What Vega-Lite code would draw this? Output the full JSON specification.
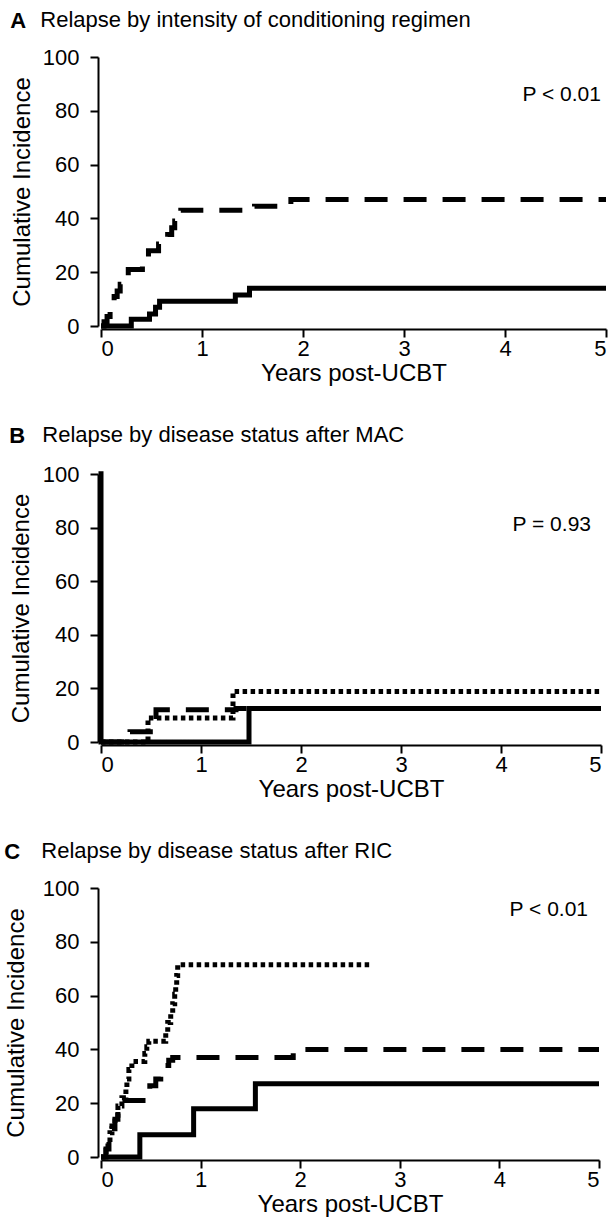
{
  "$schema": "https://vega.github.io/schema/vega-lite/v6.json",
  "background": "white",
  "padding": {"left": 4, "top": 9, "right": 4, "bottom": 4},
  "spacing": 39,
  "config": {
    "view": {"stroke": null},
    "font": "Liberation Sans",
    "axis": {
      "domainColor": "black", "domainWidth": 2, "tickColor": "black", "tickWidth": 2, "tickSize": 8,
      "labelFont": "Liberation Sans", "labelFontSize": 22, "labelColor": "black",
      "titleFont": "Liberation Sans", "titleFontSize": 24, "titleFontWeight": "normal", "titleColor": "black",
      "grid": false, "offset": 3
    },
    "title": {"font": "Liberation Sans", "color": "black"}
  },
  "datasets": {
    "pvalues": [
      {"panel": "A", "label": "P < 0.01"},
      {"panel": "B", "label": "P = 0.93"},
      {"panel": "C", "label": "P < 0.01"}
    ],
    "curves": [
      {"panel": "A", "group": "1", "x": 0, "y": 0},
      {"panel": "A", "group": "1", "x": 0.3, "y": 2.5},
      {"panel": "A", "group": "1", "x": 0.48, "y": 4.5},
      {"panel": "A", "group": "1", "x": 0.54, "y": 7},
      {"panel": "A", "group": "1", "x": 0.58, "y": 9.2},
      {"panel": "A", "group": "1", "x": 1.33, "y": 11.5},
      {"panel": "A", "group": "1", "x": 1.47, "y": 14},
      {"panel": "A", "group": "1", "x": 5, "y": 14},
      {"panel": "A", "group": "2", "x": 0, "y": 0},
      {"panel": "A", "group": "2", "x": 0.03, "y": 1.6},
      {"panel": "A", "group": "2", "x": 0.06, "y": 3.5},
      {"panel": "A", "group": "2", "x": 0.09, "y": 6},
      {"panel": "A", "group": "2", "x": 0.11, "y": 8.5},
      {"panel": "A", "group": "2", "x": 0.13, "y": 11},
      {"panel": "A", "group": "2", "x": 0.16, "y": 13},
      {"panel": "A", "group": "2", "x": 0.19, "y": 15.5},
      {"panel": "A", "group": "2", "x": 0.23, "y": 18},
      {"panel": "A", "group": "2", "x": 0.27, "y": 21},
      {"panel": "A", "group": "2", "x": 0.41, "y": 23},
      {"panel": "A", "group": "2", "x": 0.44, "y": 25.5},
      {"panel": "A", "group": "2", "x": 0.47, "y": 28},
      {"panel": "A", "group": "2", "x": 0.57, "y": 30.5},
      {"panel": "A", "group": "2", "x": 0.62, "y": 32.5},
      {"panel": "A", "group": "2", "x": 0.66, "y": 34},
      {"panel": "A", "group": "2", "x": 0.7, "y": 36.5},
      {"panel": "A", "group": "2", "x": 0.73, "y": 39},
      {"panel": "A", "group": "2", "x": 0.76, "y": 41.5},
      {"panel": "A", "group": "2", "x": 0.79, "y": 43},
      {"panel": "A", "group": "2", "x": 1.52, "y": 44.5},
      {"panel": "A", "group": "2", "x": 1.88, "y": 47},
      {"panel": "A", "group": "2", "x": 5, "y": 47},
      {"panel": "B", "group": "1", "x": 0, "y": 101},
      {"panel": "B", "group": "1", "x": 0, "y": 0},
      {"panel": "B", "group": "1", "x": 1.48, "y": 12.5},
      {"panel": "B", "group": "1", "x": 5, "y": 12.5},
      {"panel": "B", "group": "2", "x": 0, "y": 0},
      {"panel": "B", "group": "2", "x": 0.29, "y": 3.8},
      {"panel": "B", "group": "2", "x": 0.55, "y": 12},
      {"panel": "B", "group": "2", "x": 1.35, "y": 12.5},
      {"panel": "B", "group": "2", "x": 5, "y": 12.5},
      {"panel": "B", "group": "3", "x": 0, "y": 0},
      {"panel": "B", "group": "3", "x": 0.47, "y": 9},
      {"panel": "B", "group": "3", "x": 1.32, "y": 18.8},
      {"panel": "B", "group": "3", "x": 5, "y": 18.8},
      {"panel": "C", "group": "1", "x": 0, "y": 0},
      {"panel": "C", "group": "1", "x": 0.39, "y": 8.3},
      {"panel": "C", "group": "1", "x": 0.93, "y": 17.9},
      {"panel": "C", "group": "1", "x": 1.55, "y": 27.2},
      {"panel": "C", "group": "1", "x": 5, "y": 27.2},
      {"panel": "C", "group": "2", "x": 0, "y": 0},
      {"panel": "C", "group": "2", "x": 0.05, "y": 3},
      {"panel": "C", "group": "2", "x": 0.08, "y": 7},
      {"panel": "C", "group": "2", "x": 0.11, "y": 10.5},
      {"panel": "C", "group": "2", "x": 0.14, "y": 14},
      {"panel": "C", "group": "2", "x": 0.17, "y": 17.5},
      {"panel": "C", "group": "2", "x": 0.2, "y": 21},
      {"panel": "C", "group": "2", "x": 0.46, "y": 24},
      {"panel": "C", "group": "2", "x": 0.49, "y": 26.5},
      {"panel": "C", "group": "2", "x": 0.55, "y": 29},
      {"panel": "C", "group": "2", "x": 0.6, "y": 31.5},
      {"panel": "C", "group": "2", "x": 0.64, "y": 34},
      {"panel": "C", "group": "2", "x": 0.68, "y": 36},
      {"panel": "C", "group": "2", "x": 0.72, "y": 37},
      {"panel": "C", "group": "2", "x": 1.93, "y": 40},
      {"panel": "C", "group": "2", "x": 5, "y": 40},
      {"panel": "C", "group": "3", "x": 0, "y": 0},
      {"panel": "C", "group": "3", "x": 0.05, "y": 2.5},
      {"panel": "C", "group": "3", "x": 0.07, "y": 5.5},
      {"panel": "C", "group": "3", "x": 0.09, "y": 9},
      {"panel": "C", "group": "3", "x": 0.11, "y": 12.5},
      {"panel": "C", "group": "3", "x": 0.14, "y": 15.5},
      {"panel": "C", "group": "3", "x": 0.17, "y": 19},
      {"panel": "C", "group": "3", "x": 0.21, "y": 22},
      {"panel": "C", "group": "3", "x": 0.25, "y": 26},
      {"panel": "C", "group": "3", "x": 0.26, "y": 29},
      {"panel": "C", "group": "3", "x": 0.28, "y": 32.5},
      {"panel": "C", "group": "3", "x": 0.31, "y": 35.5},
      {"panel": "C", "group": "3", "x": 0.44, "y": 38.5},
      {"panel": "C", "group": "3", "x": 0.46, "y": 41},
      {"panel": "C", "group": "3", "x": 0.48, "y": 43},
      {"panel": "C", "group": "3", "x": 0.65, "y": 46.5},
      {"panel": "C", "group": "3", "x": 0.67, "y": 50},
      {"panel": "C", "group": "3", "x": 0.7, "y": 53.5},
      {"panel": "C", "group": "3", "x": 0.72, "y": 57},
      {"panel": "C", "group": "3", "x": 0.74, "y": 60.5},
      {"panel": "C", "group": "3", "x": 0.75, "y": 64},
      {"panel": "C", "group": "3", "x": 0.76, "y": 67.5},
      {"panel": "C", "group": "3", "x": 0.77, "y": 71.5},
      {"panel": "C", "group": "3", "x": 2.7, "y": 71.5}
    ]
  },
  "vconcat": [
    {
      "title": {"text": "A", "fontWeight": "bold", "fontSize": 22, "anchor": "start", "frame": "bounds", "offset": -24},
      "vconcat": [
        {
          "width": 505, "height": 269,
          "title": {"text": "Relapse by intensity of conditioning regimen", "fontSize": 22, "fontWeight": "normal", "anchor": "start", "frame": "bounds", "dx": 30, "offset": 14},
          "layer": [
            {
              "data": {"name": "curves"},
              "transform": [{"filter": "datum.panel === 'A'"}],
              "mark": {"type": "line", "interpolate": "step-after", "color": "black", "strokeWidth": 5, "strokeCap": "butt"},
              "encoding": {
                "x": {"field": "x", "type": "quantitative", "scale": {"domain": [0, 5], "nice": false}, "axis": {"values": [0, 1, 2, 3, 4, 5], "format": "d", "title": "Years post-UCBT", "labelPadding": 1, "titlePadding": 2}},
                "y": {"field": "y", "type": "quantitative", "scale": {"domain": [0, 100], "nice": false}, "axis": {"values": [0, 20, 40, 60, 80, 100], "format": "d", "title": "Cumulative Incidence", "labelPadding": 11, "titlePadding": 8}},
                "strokeDash": {"field": "group", "type": "nominal", "scale": {"domain": ["1", "2", "3"], "range": [[1, 0], [23, 16], [4.5, 3.5]]}, "legend": null}
              }
            },
            {
              "data": {"name": "pvalues"},
              "transform": [{"filter": "datum.panel === 'A'"}],
              "mark": {"type": "text", "align": "right", "baseline": "middle", "fontSize": 21, "color": "black"},
              "encoding": {"x": {"datum": 4.95}, "y": {"datum": 86}, "text": {"field": "label"}}
            }
          ]
        }
      ]
    },
    {
      "title": {"text": "B", "fontWeight": "bold", "fontSize": 22, "anchor": "start", "frame": "bounds", "offset": -24},
      "vconcat": [
        {
          "width": 500, "height": 268,
          "title": {"text": "Relapse by disease status after MAC", "fontSize": 22, "fontWeight": "normal", "anchor": "start", "frame": "bounds", "dx": 33, "offset": 14},
          "layer": [
            {
              "data": {"name": "curves"},
              "transform": [{"filter": "datum.panel === 'B'"}],
              "mark": {"type": "line", "interpolate": "step-after", "color": "black", "strokeWidth": 5, "strokeCap": "butt"},
              "encoding": {
                "x": {"field": "x", "type": "quantitative", "scale": {"domain": [0, 5], "nice": false}, "axis": {"values": [0, 1, 2, 3, 4, 5], "format": "d", "title": "Years post-UCBT", "labelPadding": 1, "titlePadding": 2}},
                "y": {"field": "y", "type": "quantitative", "scale": {"domain": [0, 100], "nice": false}, "axis": {"values": [0, 20, 40, 60, 80, 100], "format": "d", "title": "Cumulative Incidence", "labelPadding": 11, "titlePadding": 9}},
                "strokeDash": {"field": "group", "type": "nominal", "scale": {"domain": ["1", "2", "3"], "range": [[1, 0], [23, 16], [4.5, 3.5]]}, "legend": null}
              }
            },
            {
              "data": {"name": "pvalues"},
              "transform": [{"filter": "datum.panel === 'B'"}],
              "mark": {"type": "text", "align": "right", "baseline": "middle", "fontSize": 21, "color": "black"},
              "encoding": {"x": {"datum": 4.9}, "y": {"datum": 81}, "text": {"field": "label"}}
            }
          ]
        }
      ]
    },
    {
      "title": {"text": "C", "fontWeight": "bold", "fontSize": 22, "anchor": "start", "frame": "bounds", "offset": -24},
      "vconcat": [
        {
          "width": 498, "height": 269,
          "title": {"text": "Relapse by disease status after RIC", "fontSize": 22, "fontWeight": "normal", "anchor": "start", "frame": "bounds", "dx": 37, "offset": 14},
          "layer": [
            {
              "data": {"name": "curves"},
              "transform": [{"filter": "datum.panel === 'C'"}],
              "mark": {"type": "line", "interpolate": "step-after", "color": "black", "strokeWidth": 5, "strokeCap": "butt"},
              "encoding": {
                "x": {"field": "x", "type": "quantitative", "scale": {"domain": [0, 5], "nice": false}, "axis": {"values": [0, 1, 2, 3, 4, 5], "format": "d", "title": "Years post-UCBT", "labelPadding": 1, "titlePadding": 2}},
                "y": {"field": "y", "type": "quantitative", "scale": {"domain": [0, 100], "nice": false}, "axis": {"values": [0, 20, 40, 60, 80, 100], "format": "d", "title": "Cumulative Incidence", "labelPadding": 11, "titlePadding": 14}},
                "strokeDash": {"field": "group", "type": "nominal", "scale": {"domain": ["1", "2", "3"], "range": [[1, 0], [23, 16], [4.5, 3.5]]}, "legend": null}
              }
            },
            {
              "data": {"name": "pvalues"},
              "transform": [{"filter": "datum.panel === 'C'"}],
              "mark": {"type": "text", "align": "right", "baseline": "middle", "fontSize": 21, "color": "black"},
              "encoding": {"x": {"datum": 4.89}, "y": {"datum": 92}, "text": {"field": "label"}}
            }
          ]
        }
      ]
    }
  ]
}
